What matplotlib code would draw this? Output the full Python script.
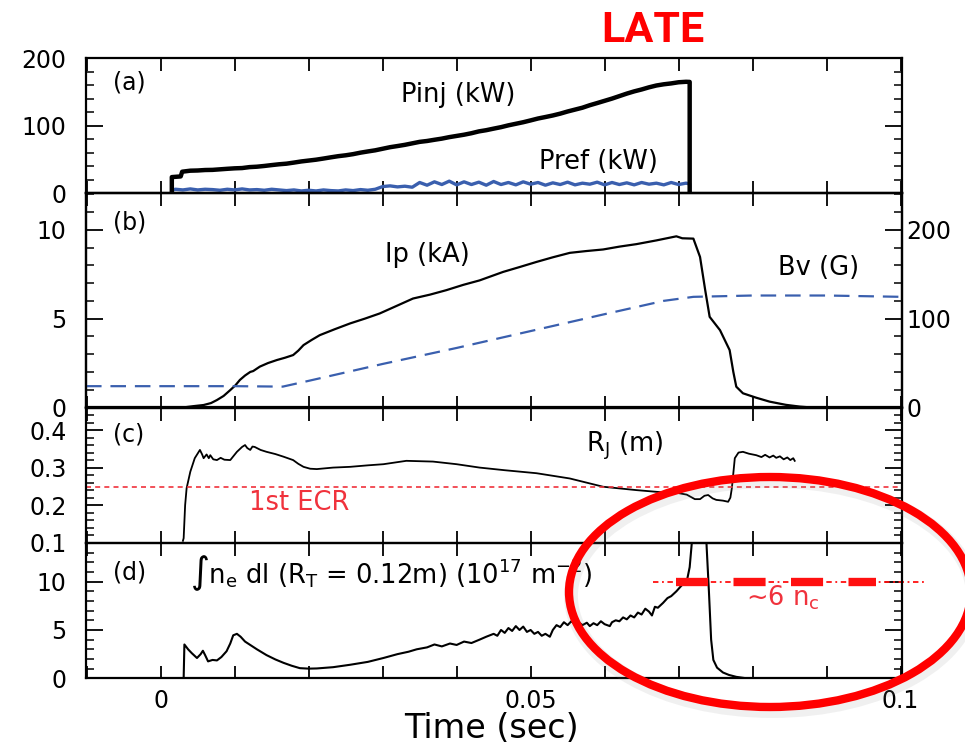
import matplotlib

matplotlib.use("Agg")
import matplotlib.pyplot as plt
from matplotlib.patches import Ellipse
from matplotlib.ticker import FuncFormatter, MultipleLocator

# ---- (a) injected / reflected power (kW) ----
PINJ_T = [0.0015, 0.0015, 0.0027, 0.0029, 0.004, 0.005, 0.006, 0.007, 0.008,
          0.009, 0.010, 0.011, 0.012, 0.013, 0.014, 0.015, 0.016, 0.017,
          0.018, 0.019, 0.020, 0.021, 0.022, 0.023, 0.024, 0.025, 0.026,
          0.027, 0.028, 0.029, 0.030, 0.031, 0.032, 0.033, 0.034, 0.035,
          0.036, 0.037, 0.038, 0.039, 0.040, 0.041, 0.042, 0.043, 0.044,
          0.045, 0.046, 0.047, 0.048, 0.049, 0.050, 0.051, 0.052, 0.053,
          0.054, 0.055, 0.056, 0.057, 0.058, 0.059, 0.060, 0.061, 0.062,
          0.063, 0.064, 0.065, 0.066, 0.067, 0.068, 0.069, 0.070, 0.071,
          0.0715, 0.0715]
PINJ = [0, 24, 25, 32, 33.5, 33.8, 34.5, 34.7, 35.5, 36.3, 37, 37.4, 38.8,
        39.4, 40.5, 41.8, 43, 43.9, 45.5, 47.2, 48.5, 49.8, 51.5, 53.3, 55,
        56.3, 58, 60.2, 62, 63.7, 66, 68.3, 70, 71.8, 74, 76.2, 77.5, 79.3,
        81, 83.2, 85, 86.8, 89, 91.7, 93.5, 95.8, 98, 100.7, 103, 105.3, 108,
        110.8, 113, 115.3, 118, 121.2, 124, 126.8, 130.5, 133.7, 137, 140.3,
        144, 147.7, 151, 153.8, 157, 159.7, 161.5, 162.8, 164.5, 165.2, 165,
        0]

PREF_T = [0.0015, 0.0016, 0.002, 0.003, 0.004, 0.005, 0.006, 0.007, 0.008,
          0.009, 0.010, 0.011, 0.012, 0.013, 0.014, 0.015, 0.016, 0.017,
          0.018, 0.019, 0.020, 0.021, 0.022, 0.023, 0.024, 0.025, 0.026,
          0.027, 0.028, 0.029, 0.030, 0.031, 0.032, 0.033, 0.034, 0.035,
          0.036, 0.037, 0.038, 0.039, 0.040, 0.041, 0.042, 0.043, 0.044,
          0.045, 0.046, 0.047, 0.048, 0.049, 0.050, 0.051, 0.052, 0.053,
          0.054, 0.055, 0.056, 0.057, 0.058, 0.059, 0.060, 0.061, 0.062,
          0.063, 0.064, 0.065, 0.066, 0.067, 0.068, 0.069, 0.070, 0.071,
          0.0715, 0.0715]
PREF = [0, 5, 6, 5, 6.5, 5, 6, 5.5, 4.5, 6, 5, 6.5, 5, 5.5, 4.5, 6, 5, 4, 5,
        3.5, 4.5, 3.5, 5, 4, 3.5, 5, 4, 5.5, 4.5, 6, 10, 11, 9.5, 10.5, 9, 16,
        12, 17, 13, 18, 12.5, 17, 13, 16.5, 12, 17.5, 13, 16, 12.5, 17, 13.5,
        16, 12, 15.5, 13, 16.5, 12.5, 15, 13.5, 16.5, 12.5, 16, 13, 15.5, 12.5,
        16, 13.5, 15, 12.5, 16, 13, 15, 14, 0]

# ---- (b) plasma current (kA) and vertical field (G) ----
IP_T = [0.0030, 0.0045, 0.0058, 0.0068, 0.0076, 0.0085, 0.0094, 0.0101,
        0.0107, 0.0114, 0.0121, 0.0125, 0.0134, 0.0145, 0.0157, 0.0168,
        0.0179, 0.0186, 0.0193, 0.0204, 0.0215, 0.0235, 0.0256, 0.0276,
        0.0296, 0.0318, 0.0341, 0.0364, 0.0386, 0.0409, 0.0431, 0.0463,
        0.0485, 0.0508, 0.0530, 0.0553, 0.0575, 0.0598, 0.0620, 0.0643,
        0.0670, 0.0697, 0.0705, 0.0720, 0.0729, 0.0736, 0.0742, 0.0756,
        0.0769, 0.0774, 0.0778, 0.0787, 0.0805, 0.0823, 0.0845, 0.0864,
        0.0880]
IP = [0.0, 0.08, 0.14, 0.25, 0.42, 0.65, 0.98, 1.25, 1.55, 1.8, 2.0, 2.05,
      2.3, 2.5, 2.67, 2.8, 2.95, 3.2, 3.51, 3.8, 4.07, 4.4, 4.73, 5.0, 5.29,
      5.7, 6.13, 6.35, 6.6, 6.9, 7.15, 7.63, 7.9, 8.19, 8.45, 8.7, 8.8, 8.89,
      9.05, 9.19, 9.4, 9.63, 9.52, 9.5, 8.47, 6.6, 5.1, 4.35, 3.23, 2.0, 1.17,
      0.8, 0.55, 0.33, 0.15, 0.05, 0.0]

BV_T = [-0.0101, 0.0, 0.010, 0.0165, 0.020, 0.030, 0.040, 0.050, 0.060,
        0.068, 0.072, 0.080, 0.090, 0.1002]
BV = [24, 24, 24, 23.5, 30, 49, 67, 86, 105, 120, 124.5, 126, 126, 124.5]

# ---- (c) current centre radius (m) ----
RJ_T = [0.0030, 0.0031, 0.0033, 0.0035, 0.0040, 0.0046, 0.0053, 0.0056,
        0.0058, 0.0062, 0.0065, 0.0067, 0.0071, 0.0076, 0.0081, 0.0086,
        0.0094, 0.0103, 0.0110, 0.0114, 0.0117, 0.0121, 0.0124, 0.0127,
        0.0135, 0.0143, 0.0155, 0.0166, 0.0179, 0.0186, 0.0193, 0.0202,
        0.0211, 0.0233, 0.0256, 0.0280, 0.0301, 0.0332, 0.0368, 0.0400,
        0.0431, 0.0465, 0.0508, 0.0553, 0.0598, 0.0643, 0.0679, 0.0700,
        0.0711, 0.0722, 0.0729, 0.0735, 0.0740, 0.0746, 0.0751, 0.0760,
        0.0767, 0.0770, 0.0772, 0.0776, 0.0781, 0.0787, 0.0795, 0.0805,
        0.0812, 0.0817, 0.0823, 0.0828, 0.0832, 0.0837, 0.0842, 0.0847,
        0.0851, 0.0855, 0.0857]
RJ = [0.105, 0.112, 0.200, 0.245, 0.289, 0.325, 0.347, 0.335, 0.325, 0.335,
      0.325, 0.333, 0.322, 0.320, 0.326, 0.321, 0.320, 0.342, 0.355, 0.360,
      0.352, 0.347, 0.356, 0.355, 0.347, 0.342, 0.336, 0.329, 0.320, 0.310,
      0.302, 0.297, 0.296, 0.300, 0.302, 0.306, 0.309, 0.318, 0.316, 0.309,
      0.300, 0.293, 0.285, 0.271, 0.249, 0.240, 0.234, 0.232, 0.228, 0.216,
      0.216, 0.225, 0.227, 0.218, 0.214, 0.212, 0.209, 0.220, 0.245, 0.325,
      0.340, 0.342, 0.337, 0.333, 0.328, 0.334, 0.327, 0.332, 0.326, 0.330,
      0.322, 0.327, 0.320, 0.325, 0.318]
ECR_R = 0.248

# ---- (d) line-integrated density (1e17 m^-2) ----
NE_T = [0.0031, 0.0032, 0.0037, 0.0042, 0.0049, 0.0054, 0.0057, 0.0060,
        0.0064, 0.0070, 0.0076, 0.0082, 0.0089, 0.0094, 0.0098, 0.0103,
        0.0108, 0.0114, 0.0121, 0.0130, 0.0143, 0.0155, 0.0166, 0.0177,
        0.0188, 0.0200, 0.0211, 0.0233, 0.0256, 0.0280, 0.0301, 0.0320,
        0.0335, 0.0346, 0.0360, 0.0370, 0.0380, 0.0391, 0.0400, 0.0410,
        0.0420, 0.0431, 0.0440, 0.0450, 0.0455, 0.0460, 0.0465, 0.0470,
        0.0475, 0.0480, 0.0485, 0.0490, 0.0495, 0.0500, 0.0505, 0.0510,
        0.0515, 0.0520, 0.0526, 0.0530, 0.0535, 0.0540, 0.0545, 0.0550,
        0.0555, 0.0560, 0.0565, 0.0570, 0.0576, 0.0580, 0.0585, 0.0590,
        0.0595, 0.0600, 0.0607, 0.0610, 0.0615, 0.0620, 0.0625, 0.0630,
        0.0635, 0.0640, 0.0645, 0.0650, 0.0655, 0.0660, 0.0664, 0.0668,
        0.0672, 0.0679, 0.0685, 0.0690, 0.0697, 0.0704, 0.0711, 0.0715,
        0.0719, 0.0725, 0.0733, 0.0738, 0.0741, 0.0744, 0.0747, 0.0752,
        0.0760, 0.0768, 0.0778, 0.0790, 0.0800]
NE = [0, 3.5, 3.0, 2.6, 2.1, 2.5, 2.85, 2.4, 1.75, 1.9, 1.85, 2.2, 2.8, 3.6,
      4.45, 4.6, 4.3, 3.8, 3.45, 3.0, 2.4, 1.95, 1.6, 1.3, 1.05, 1.0, 1.02,
      1.15, 1.4, 1.7, 2.1, 2.5, 2.75, 3.0, 3.2, 3.5, 3.3, 3.6, 3.45, 3.8,
      3.65, 4.0, 4.3, 4.6, 4.4, 5.0, 4.7, 5.2, 4.9, 5.4, 5.0, 5.35, 4.8, 5.0,
      4.6, 4.8, 4.4, 4.6, 4.3, 5.0, 5.5, 5.3, 5.8, 5.5, 5.9, 5.6, 5.8, 5.5,
      5.75, 5.4, 5.7, 5.5, 5.9, 5.6, 5.4, 5.8, 6.0, 5.9, 6.3, 6.1, 6.5, 6.3,
      6.8, 6.6, 7.2, 6.9, 6.5, 7.4, 7.3, 7.8, 8.3, 8.5, 9.0, 9.6, 10.0, 11.5,
      15.0, 22.0, 22.0, 13.5, 9.0, 4.0, 1.9, 1.1, 0.6, 0.35, 0.15, 0.02, 0.0]
NC_LEVEL = 10.0
NC_SPAN = (0.0665, 0.1036)
NC_THICK_SPAN = (0.0696, 0.0967)

BLUE = "#3a5fae"
RED = "#ff1010"
LIGHT_RED = "#f0323c"

plt.rcParams.update(
    {
        "font.family": "DejaVu Sans",
        "font.size": 17,
        "mathtext.fontset": "dejavusans",
        "axes.linewidth": 1.6,
        "figure.facecolor": "white",
    }
)

FIG_W, FIG_H = 965, 744
LEFT_PX, RIGHT_PX = 86, 902
TICK_SIZE = 17
LABEL_SIZE = 18.5


def panel_rect(top_px, bottom_px):
    return [
        LEFT_PX / FIG_W,
        1 - bottom_px / FIG_H,
        (RIGHT_PX - LEFT_PX) / FIG_W,
        (bottom_px - top_px) / FIG_H,
    ]


def style_axis(ax, ymajor, yminor, right=True):
    ax.set_xlim(-0.0101, 0.1002)
    ax.xaxis.set_major_locator(MultipleLocator(0.01))
    ax.yaxis.set_major_locator(MultipleLocator(ymajor))
    ax.yaxis.set_minor_locator(MultipleLocator(yminor))
    ax.tick_params(axis="x", which="major", direction="in", top=True,
                   bottom=True, length=9, width=1.3, labelbottom=False)
    ax.tick_params(axis="y", which="major", direction="in", left=True,
                   right=right, length=12, width=1.3, pad=14,
                   labelsize=TICK_SIZE)
    ax.tick_params(axis="y", which="minor", direction="in", left=True,
                   right=right, length=6, width=1.1)
    ax.patch.set_alpha(0)


fig = plt.figure(figsize=(FIG_W / 100, FIG_H / 100), dpi=100)
ax_a = fig.add_axes(panel_rect(58.3, 193.3))
ax_b = fig.add_axes(panel_rect(193.3, 407.5))
ax_c = fig.add_axes(panel_rect(407.5, 542.7))
ax_d = fig.add_axes(panel_rect(542.7, 678.3))

# (a)
ax_a.plot(PREF_T, PREF, color=BLUE, lw=2.4)
ax_a.plot(PINJ_T, PINJ, color="black", lw=3.2)
ax_a.set_ylim(0, 200)
style_axis(ax_a, 100, 20)
ax_a.text(0.033, 0.82, "(a)", transform=ax_a.transAxes, va="center",
          fontsize=TICK_SIZE)
ax_a.text(0.0402, 146, "Pinj (kW)", ha="center", va="center",
          fontsize=LABEL_SIZE)
ax_a.text(0.0592, 46, "Pref (kW)", ha="center", va="center",
          fontsize=LABEL_SIZE)

# (b)
ax_b.plot(IP_T, IP, color="black", lw=1.6)
ax_b.set_ylim(0, 12.05)
style_axis(ax_b, 5, 1, right=False)
ax_bv = ax_b.twinx()
ax_bv.plot(BV_T, BV, color=BLUE, lw=1.6, linestyle=(0, (7, 4)))
ax_bv.set_ylim(0, 241)
ax_bv.set_xlim(-0.0101, 0.1002)
ax_bv.yaxis.set_major_locator(MultipleLocator(100))
ax_bv.yaxis.set_minor_locator(MultipleLocator(20))
ax_bv.tick_params(axis="y", which="major", direction="in", left=False,
                  right=True, length=12, width=1.3, pad=3,
                  labelsize=TICK_SIZE)
ax_bv.tick_params(axis="y", which="minor", direction="in", left=False,
                  right=True, length=6, width=1.1)
ax_b.text(0.033, 10.4, "(b)", transform=ax_b.get_yaxis_transform(),
          va="center", fontsize=TICK_SIZE)
ax_b.text(0.0361, 8.57, "Ip (kA)", ha="center", va="center",
          fontsize=LABEL_SIZE)
ax_b.text(0.0889, 7.84, "Bv (G)", ha="center", va="center",
          fontsize=LABEL_SIZE)

# (c)
ax_c.plot(RJ_T, RJ, color="black", lw=1.3)
ax_c.axhline(ECR_R, color=LIGHT_RED, lw=1.2, linestyle=(0, (3, 2.5)))
ax_c.set_ylim(0.1, 0.46)
style_axis(ax_c, 0.1, 0.02)
ax_c.text(0.033, 0.387, "(c)", transform=ax_c.get_yaxis_transform(),
          va="center", fontsize=TICK_SIZE)
ax_c.text(0.0187, 0.206, "1st ECR", color=LIGHT_RED, ha="center",
          va="center", fontsize=LABEL_SIZE)
ax_c.text(0.0627, 0.357, r"R$_\mathrm{J}$ (m)", ha="center", va="center",
          fontsize=LABEL_SIZE)

# (d)
ax_d.plot(NE_T, NE, color="black", lw=1.5)
ax_d.set_ylim(0, 14.03)
style_axis(ax_d, 5, 1)
ax_d.tick_params(axis="x", labelbottom=True, pad=8, labelsize=TICK_SIZE)
tick_names = {0: "0", 5: "0.05", 10: "0.1"}
ax_d.xaxis.set_major_formatter(
    FuncFormatter(lambda v, _: tick_names.get(round(v * 100), ""))
)
ax_d.plot(NC_SPAN, [NC_LEVEL, NC_LEVEL], color=RED, lw=1.3,
          linestyle=(0, (3, 2, 1, 2)), clip_on=False)
ax_d.plot(NC_THICK_SPAN, [NC_LEVEL, NC_LEVEL], color=RED, lw=6,
          linestyle=(0, (3.85, 3.05)), solid_capstyle="butt",
          dash_capstyle="butt", clip_on=False)
ax_d.text(0.033, 10.9, "(d)", transform=ax_d.get_yaxis_transform(),
          va="center", fontsize=TICK_SIZE)
ax_d.text(0.0040, 10.9,
          r"∫n$_\mathrm{e}$ dl (R$_\mathrm{T}$ = 0.12m) (10$^{17}$ m$^{-2}$)",
          ha="left", va="center", fontsize=LABEL_SIZE)
ax_d.text(0.0841, 8.3, r"∼6 n$_\mathrm{c}$", color=LIGHT_RED, ha="center",
          va="center", fontsize=LABEL_SIZE)

fig.text(491 / FIG_W, 1 - 728 / FIG_H, "Time (sec)", ha="center",
         va="center", fontsize=24)
fig.text(653 / FIG_W, 1 - 31 / FIG_H, "LATE", color="#ff0000",
         ha="center", va="center", fontsize=31, fontweight="bold",
         family="Roboto")

# red highlight ellipse with a soft shadow
cx, cy, ew, eh = 770, 592, 402, 230
shadow = Ellipse(((cx + 2) / FIG_W, 1 - (cy + 4) / FIG_H), ew / FIG_W,
                 eh / FIG_H, transform=fig.transFigure, fill=False,
                 edgecolor="#888888", lw=10, alpha=0.12, clip_on=False)
ring = Ellipse((cx / FIG_W, 1 - cy / FIG_H), ew / FIG_W, eh / FIG_H,
               transform=fig.transFigure, fill=False, edgecolor="#ff0000",
               lw=6, clip_on=False)
fig.add_artist(shadow)
fig.add_artist(ring)

fig.savefig("out.png", dpi=100)
